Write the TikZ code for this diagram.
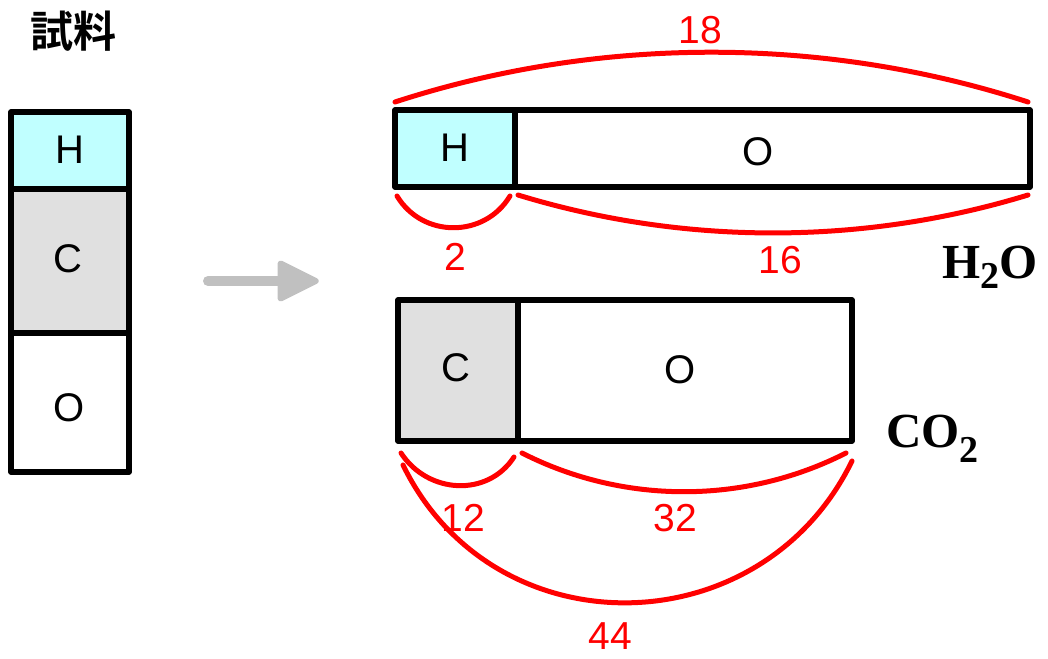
\documentclass[tikz,border=0pt]{standalone}
\usepackage{fontspec}
\setmainfont{Liberation Sans}
\newfontfamily\cjkfont{Noto Sans CJK JP}[BoldFont={Noto Sans CJK JP Bold}]
\newfontfamily\formfont{Liberation Serif}
\definecolor{hcyan}{HTML}{C0FFFF}
\definecolor{cgray}{HTML}{E0E0E0}
\definecolor{arrowgray}{HTML}{C0C0C0}
\begin{document}
\begin{tikzpicture}[x=1pt,y=1pt,
  elem/.style={draw=black,line width=5.5pt,line join=round,inner sep=0pt,outer sep=0pt},
  elemtext/.style={font=\fontsize{40}{40}\selectfont,inner sep=0pt},
  dim/.style={draw=red,line width=5pt,line cap=round},
  dimlabel/.style={text=red,font=\fontsize{39}{39}\selectfont,inner sep=0pt},
  formula/.style={font=\formfont\bfseries\fontsize{49}{49}\selectfont,inner sep=0pt,anchor=base west}]
\useasboundingbox (0,0) rectangle (1048,-658);
% title
\node[font=\cjkfont\bfseries\fontsize{43}{43}\selectfont,inner sep=0pt] (title) at (73,-31) {試料};
% sample stack
\node[elem,fill=hcyan,minimum width=118pt,minimum height=77pt] (LH) at (70,-150.5) {};
\node[elem,fill=cgray,minimum width=118pt,minimum height=144pt] (LC) at (70,-261) {};
\node[elem,fill=white,minimum width=118pt,minimum height=139pt] (LO) at (70,-402.5) {};
\node[elemtext] (tLH) at (70,-150) {H};
\node[elemtext] (tLC) at (68,-259) {C};
\node[elemtext] (tLO) at (69,-408) {O};
% arrow
\coordinate (as) at (208,-281);
\coordinate (ae) at (286,-281);
\draw[arrowgray,line width=10pt,line cap=round] (as) -- (ae);
\fill[arrowgray,draw=arrowgray,line width=3pt,line join=round,rounded corners=3pt]
  (279,-261) -- (319,-281) -- (279,-301) -- cycle;
% water
\node[elem,fill=hcyan,minimum width=120pt,minimum height=77pt] (WH) at (455,-148.5) {};
\node[elem,fill=white,minimum width=515pt,minimum height=77pt] (WO) at (772.5,-148.5) {};
\node[elemtext] (tWH) at (455,-148) {H};
\node[elemtext] (tWO) at (758,-152) {O};
% carbon dioxide
\node[elem,fill=cgray,minimum width=120pt,minimum height=141pt] (CC) at (458,-370.5) {};
\node[elem,fill=white,minimum width=334pt,minimum height=141pt] (CO) at (685,-370.5) {};
\node[elemtext] (tCC) at (456,-368) {C};
\node[elemtext] (tCO) at (680,-370) {O};
% formulas
\node[formula] (h2o) at (942,-278) {H\raisebox{-10pt}{\fontsize{38}{38}\selectfont 2}O};
\node[formula] (co2) at (886,-447) {CO\raisebox{-15pt}{\fontsize{38}{38}\selectfont 2}};
% dimension arcs
\coordinate (a18) at (395,-102); \coordinate (b18) at (1028,-102);
\coordinate (a2) at (397,-196); \coordinate (b2) at (510,-196);
\coordinate (a16) at (518,-195); \coordinate (b16) at (1028,-195);
\coordinate (a12) at (401,-453); \coordinate (b12) at (514,-457);
\coordinate (a32) at (522,-453); \coordinate (b32) at (846,-453);
\coordinate (a44) at (403,-465); \coordinate (b44) at (852,-461);
\draw[dim] (a18) to[out=18,in=162,looseness=0.87] (b18);
\draw[dim] (a2) to[out=-59,in=239,looseness=1.12] (b2);
\draw[dim] (a16) to[out=-17,in=197,looseness=0.87] (b16);
\draw[dim] (a12) to[out=-57,in=237,looseness=1.1] (b12);
\draw[dim] (a32) to[out=-27,in=207,looseness=0.9] (b32);
\draw[dim] (a44) to[out=-64,in=244,looseness=1.18] (b44);
\node[dimlabel] (l18) at (700,-30) {18};
\node[dimlabel] (l2) at (455,-257) {2};
\node[dimlabel] (l16) at (780,-260) {16};
\node[dimlabel] (l12) at (463,-518) {12};
\node[dimlabel] (l32) at (675,-518) {32};
\node[dimlabel] (l44) at (610,-636) {44};
\end{tikzpicture}
\end{document}
